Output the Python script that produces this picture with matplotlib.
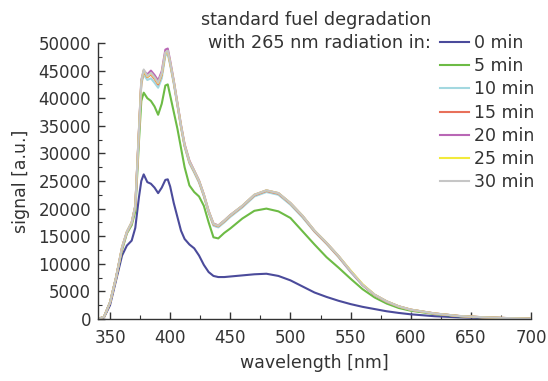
import matplotlib
matplotlib.use("Agg")
import matplotlib.pyplot as plt
from matplotlib.ticker import MultipleLocator

plt.rcParams['font.family'] = ['DejaVu Sans']
plt.rcParams['font.size'] = 12

# wavelength grid [nm]
wl = [340, 345, 350, 355, 360, 364, 368, 371, 374, 376, 378, 381, 384, 387, 390,
      393, 396, 398, 400, 403, 406, 409, 412, 416, 420, 424, 428, 432, 436, 440,
      445, 450, 460, 470, 480, 490, 500, 510, 520, 530, 540, 550, 560, 570, 580,
      590, 600, 620, 640, 660, 680, 700]

# signal [a.u.] for each irradiation time
s0 = [0, 300, 2500, 7000, 11500, 13300, 14200, 16500, 22000, 25000, 26200, 24800, 24500, 23800, 22800,
      23800, 25200, 25300, 24000, 21000, 18500, 16000, 14500, 13500, 12800, 11500, 9800, 8500, 7800, 7600,
      7600, 7700, 7900, 8100, 8200, 7800, 7000, 5900, 4800, 4000, 3300, 2700, 2200, 1800, 1400,
      1100, 850, 500, 300, 180, 100, 50]
s5 = [0, 400, 3000, 7500, 12500, 15500, 17000, 19500, 32000, 39500, 41000, 40000, 39500, 38500, 37000,
      39000, 42300, 42500, 40500, 37500, 34500, 31000, 27500, 24200, 23000, 22200, 20500, 17500, 14800, 14600,
      15600, 16400, 18200, 19600, 20000, 19500, 18300, 15900, 13500, 11200, 9300, 7300, 5400, 3900, 2800,
      2000, 1500, 900, 500, 300, 150, 60]
s10 = [0, 400, 3000, 7500, 12800, 15600, 17300, 20300, 33500, 42500, 44300, 43300, 43600, 42800, 41900,
       43600, 47700, 48000, 46000, 42600, 38700, 34700, 31200, 28200, 26500, 24700, 22200, 19200, 16900, 16600,
       17500, 18500, 20200, 22200, 23000, 22500, 20700, 18400, 15800, 13600, 11200, 8500, 6100, 4300, 3100,
       2250, 1650, 980, 540, 310, 160, 70]
s15 = [0, 400, 3000, 7500, 12900, 15700, 17400, 20400, 33800, 42800, 44800, 43800, 44300, 43500, 42500,
       44200, 48200, 48500, 46300, 42900, 38900, 34900, 31400, 28400, 26700, 24900, 22400, 19400, 17100, 16800,
       17700, 18700, 20400, 22400, 23200, 22700, 20900, 18600, 15900, 13700, 11300, 8650, 6150, 4350, 3150,
       2280, 1680, 990, 545, 315, 165, 70]
s20 = [0, 400, 3000, 7500, 13000, 15800, 17500, 20500, 34200, 43300, 45000, 44300, 45000, 44200, 43200,
       44900, 48800, 49000, 46800, 43200, 39200, 35200, 31700, 28700, 26900, 25100, 22600, 19600, 17300, 16950,
       17850, 18850, 20500, 22500, 23300, 22800, 21000, 18700, 16000, 13800, 11400, 8700, 6200, 4400, 3200,
       2300, 1700, 1000, 550, 320, 170, 70]
s25 = [0, 400, 3000, 7500, 13000, 15800, 17500, 20500, 34000, 43000, 45000, 43900, 44500, 43700, 42700,
       44400, 48200, 48500, 46400, 43000, 39000, 35000, 31500, 28500, 26800, 25000, 22500, 19500, 17200, 16900,
       17800, 18800, 20500, 22500, 23300, 22800, 21000, 18700, 16000, 13800, 11400, 8800, 6300, 4400, 3200,
       2300, 1700, 1000, 550, 320, 170, 70]
s30 = [0, 400, 3000, 7500, 13000, 15800, 17500, 20500, 34000, 43000, 45200, 44000, 44600, 43800, 42800,
       44500, 48300, 48600, 46500, 43000, 39000, 35000, 31500, 28500, 26800, 25000, 22500, 19500, 17200, 16900,
       17800, 18800, 20500, 22500, 23300, 22800, 21000, 18700, 16000, 13800, 11400, 8700, 6200, 4400, 3200,
       2300, 1700, 1000, 550, 320, 170, 70]

series = [s0, s5, s10, s15, s20, s25, s30]
labels = ['0 min', '5 min', '10 min', '15 min', '20 min', '25 min', '30 min']
colors = ['#4b4b9b', '#6dbb45', '#a3d8e0', '#e8705a', '#b967b5', '#f2ea3c', '#c6c6c6']

fig = plt.figure(figsize=(5.48, 3.81), dpi=100)
ax = fig.add_axes([98 / 548, 1 - 319 / 381, (531 - 98) / 548, (319 - 43) / 381])

for s, lab, c in zip(series, labels, colors):
    ax.plot(wl, s, color=c, lw=1.5, label=lab, solid_joinstyle='round')

ax.set_xlim(340, 700)
ax.set_ylim(0, 50000)
ax.xaxis.set_major_locator(MultipleLocator(50))
ax.xaxis.set_minor_locator(MultipleLocator(25))
ax.yaxis.set_major_locator(MultipleLocator(5000))
ax.yaxis.set_minor_locator(MultipleLocator(2500))
ax.set_xticks(range(350, 701, 50))

for side in ['top', 'right']:
    ax.spines[side].set_visible(False)
for side in ['left', 'bottom']:
    ax.spines[side].set_color('#333333')
    ax.spines[side].set_linewidth(1.0)

ax.tick_params(which='both', direction='in', colors='#333333', labelcolor='#333333')
ax.tick_params(which='major', length=5, width=1.0)
ax.tick_params(which='minor', length=3, width=0.8)
ax.tick_params(axis='y', pad=5)
ax.tick_params(axis='x', pad=7)

ax.set_xlabel('wavelength [nm]', color='#333333', labelpad=5, fontsize=12.5)
ax.set_ylabel('signal [a.u.]', color='#333333', labelpad=6, fontsize=12.5)

leg = ax.legend(loc='upper left', bbox_to_anchor=(440 / 548, 1 - 34 / 381),
                bbox_transform=fig.transFigure, frameon=False, borderpad=0,
                borderaxespad=0, handlelength=1.65, handletextpad=0.3,
                labelspacing=0.3, fontsize=12.5)
for t in leg.get_texts():
    t.set_color('#333333')

fig.text(431 / 548, 1 - 20 / 381, 'standard fuel degradation', ha='right', va='center',
         color='#333333', fontsize=12.7)
fig.text(431 / 548, 1 - 43 / 381, 'with 265 nm radiation in:', ha='right', va='center',
         color='#333333', fontsize=12.7)

fig.savefig('out.png', dpi=100)
